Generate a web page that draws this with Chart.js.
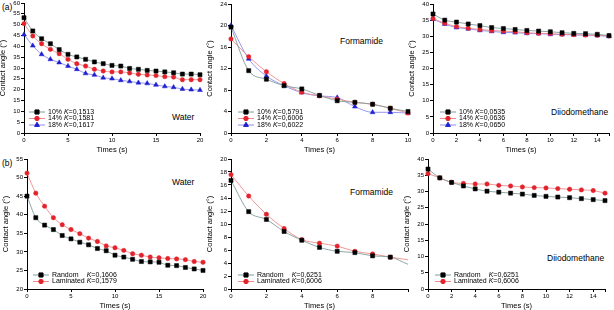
<!DOCTYPE html>
<html>
<head>
<meta charset="utf-8">
<script src="https://cdn.jsdelivr.net/npm/chart.js@4.4.1/dist/chart.umd.min.js"></script>
<style>
  body { margin: 0; background: #fff; width: 614px; height: 310px; position: relative; overflow: hidden;
         font-family: "Liberation Sans", Arial, sans-serif; }
  canvas { position: absolute; }
  .lbl { position: absolute; font-size: 8.5px; color: #000; white-space: nowrap; line-height: 1; }
</style>
</head>
<body>
<div class="lbl" style="left:2px;top:3px">(a)</div>
<div class="lbl" style="left:2px;top:159px">(b)</div>
<div class="lbl" style="left:172px;top:113px">Water</div>
<div class="lbl" style="left:340px;top:37px">Formamide</div>
<div class="lbl" style="left:551px;top:108px">Diiodomethane</div>
<div class="lbl" style="left:172px;top:178px">Water</div>
<div class="lbl" style="left:350px;top:188px">Formamide</div>
<div class="lbl" style="left:547px;top:254px">Diiodomethane</div>
<script>
// time axes
const t20 = [0,1,2,3,4,5,6,7,8,9,10,11,12,13,14,15,16,17,18,19,20];
const t10 = [0,1,2,3,4,5,6,7,8,9,10];
const t15 = [0,1,2,3,4,5,6,7,8,9,10,11,12,13,14,15];

// (a) water
const waterA10 = [53.2,47.1,43.5,41.2,38.5,36.3,35.1,34.0,32.8,32.0,31.2,30.9,29.8,29.4,28.9,28.6,28.2,27.8,27.2,27.2,26.9];
const waterA14 = [50.5,44.8,41.2,38.6,36.6,34.0,32.0,30.9,29.4,28.6,28.2,28.2,27.7,27.1,26.8,26.5,26.0,25.8,24.6,24.6,24.6];
const waterA18 = [45.4,40.3,36.3,34.0,32.5,30.9,29.4,27.5,26.8,25.5,25.1,24.3,23.8,23.2,22.9,22.2,21.5,21.1,20.3,20.0,19.8];
// (a) formamide
const formA10 = [19.7,11.6,10.0,8.8,8.2,7.0,6.0,5.7,5.35,4.6,4.0];
const formA14 = [17.5,14.2,11.4,9.2,7.6,6.9,6.3,5.7,5.35,4.6,3.7];
const formA18 = [20.0,13.8,10.6,8.8,7.5,6.9,6.6,4.9,3.85,3.85,3.7];
// (a) diiodomethane
const diioA10 = [36.9,35.0,34.4,33.8,33.3,32.7,32.4,32.1,31.8,31.6,31.4,31.1,30.9,30.8,30.6,30.2];
const diioA14 = [35.5,34.0,33.0,32.5,32.1,31.8,31.6,31.4,31.1,30.9,30.8,30.6,30.5,30.4,30.3,30.1];
const diioA18 = [35.3,33.8,32.7,32.3,31.8,31.5,31.2,31.1,30.9,30.8,30.6,30.5,30.4,30.3,30.2,30.0];
// (b) water
const waterRandom = [45.0,39.2,37.2,36.0,34.4,33.5,32.6,31.9,30.9,30.3,29.1,28.6,28.0,27.4,27.3,27.2,26.4,26.3,25.8,25.4,25.0];
const waterLamin  = [51.2,45.8,42.3,39.2,37.3,36.0,34.9,33.7,32.8,31.6,31.1,30.4,29.5,29.1,28.6,28.4,28.2,28.1,27.9,27.4,27.2];
// (b) formamide (last value = end of fitted curve, no marker)
const formRandom = [16.7,11.9,10.7,8.85,7.5,6.4,5.8,5.6,5.1,4.9,3.8];
const formLamin  = [17.6,14.3,11.5,9.3,7.6,7.05,6.6,5.8,5.4,4.9,4.5];
// (b) diiodomethane
const diioRandom = [36.9,34.2,32.8,31.7,30.8,30.1,29.8,29.5,29.2,28.8,28.5,28.3,28.1,27.8,27.5,27.2];
const diioLamin  = [35.5,34.2,32.8,32.5,32.3,32.3,31.9,31.7,31.4,31.2,31.1,30.9,30.7,30.5,30.3,29.5];

const kA1 = ['0,1513','0,1581','0,1617'];
const kA2 = ['0,5791','0,6006','0,6022'];
const kA3 = ['0,0535','0,0636','0,0650'];
const kB1 = ['0,1606','0,1579'];
const kB2 = ['0,6251','0,6006'];
const kB3 = ['0,6251','0,6006'];

const S_BLACK = { color: '#000000', line: '#7f9c9c', marker: 'rect', r: 2.9 };
const S_RED   = { color: '#e3222c', line: '#f08a8a', marker: 'circle', r: 2.2 };
const S_BLUE  = { color: '#1f1fd0', line: '#8c8cf0', marker: 'triangle', r: 2.8 };

const YW = 26, XH = 21, PT = 6, PR = 8;
const FONT = '"Liberation Sans", Arial, sans-serif';

const inlineLegend = {
  id: 'inlineLegend',
  afterDatasetsDraw(chart, args, opts) {
    const { ctx, chartArea } = chart;
    ctx.save();
    ctx.font = '7px ' + FONT;
    const nameW = Math.max(...opts.names.map(n => ctx.measureText(n + ' ').width));
    opts.names.forEach((name, i) => {
      const ds = chart.data.datasets[i];
      const x0 = chartArea.left + opts.dx;
      const y = chartArea.bottom - opts.bottom + i * opts.dy;
      ctx.strokeStyle = ds.borderColor;
      ctx.lineWidth = 1;
      ctx.beginPath(); ctx.moveTo(x0, y); ctx.lineTo(x0 + 16, y); ctx.stroke();
      ctx.fillStyle = ds.pointBackgroundColor;
      ctx.strokeStyle = ds.pointBorderColor;
      Chart.helpers.drawPoint(ctx, { pointStyle: ds.pointStyle, radius: ds.legendRadius, rotation: 0, borderWidth: 0.5 }, x0 + 8, y);
      ctx.fillStyle = '#000';
      ctx.textBaseline = 'middle';
      const tx = x0 + 19;
      ctx.font = '7px ' + FONT;
      ctx.fillText(name, tx, y);
      const kx = tx + nameW;
      ctx.font = 'italic 7px ' + FONT;
      ctx.fillText('K', kx, y);
      const kw = ctx.measureText('K').width;
      ctx.font = '7px ' + FONT;
      ctx.fillText('=' + opts.ks[i], kx + kw, y);
    });
    ctx.restore();
  }
};

function makePanel(p) {
  const c = document.createElement('canvas');
  c.width = p.right - p.left + YW + PR;
  c.height = p.bottom - p.top + PT + XH;
  c.style.left = (p.left - YW) + 'px';
  c.style.top = (p.top - PT) + 'px';
  document.body.appendChild(c);

  const tickFont = { size: 6, family: FONT };
  const titleFont = { size: 7.5, family: FONT };

  new Chart(c, {
    type: 'line',
    data: {
      datasets: p.series.map(s => ({
        data: p.x.map((x, i) => ({ x: x, y: s.values[i] })),
        borderColor: s.style.line,
        borderWidth: 0.9,
        clip: 8,
        cubicInterpolationMode: 'monotone',
        pointStyle: s.style.marker,
        pointRadius: ctx => (p.hideLast && ctx.dataIndex === p.x.length - 1) ? 0 : s.style.r,
        legendRadius: s.style.r,
        pointBackgroundColor: s.style.color,
        pointBorderColor: s.style.color,
        pointBorderWidth: 0.5
      }))
    },
    options: {
      responsive: false,
      animation: false,
      devicePixelRatio: 1,
      layout: { padding: { top: PT, right: PR, left: 0, bottom: 0 } },
      plugins: {
        legend: { display: false },
        tooltip: { enabled: false },
        inlineLegend: { names: p.names, ks: p.ks, dx: p.legDx, bottom: p.legBottom, dy: 6.5 }
      },
      scales: {
        x: {
          type: 'linear', min: 0, max: p.xMax,
          afterFit: s => { s.height = XH; },
          ticks: { stepSize: p.xStep, autoSkip: false, maxRotation: 0, font: tickFont, color: '#000', padding: 1,
                   callback: v => (v % p.xStep !== 0 || (p.hideXMax && v === p.xMax)) ? '' : v },
          grid: { drawOnChartArea: false, tickLength: 3, color: '#000' },
          border: { color: '#000', width: 1 },
          title: { display: true, text: 'Times (s)', font: titleFont, color: '#000', padding: { top: 0, bottom: 0 } }
        },
        y: {
          min: p.yMin, max: p.yMax,
          afterFit: s => { s.width = YW; },
          ticks: { stepSize: p.yStep, autoSkip: false, font: tickFont, color: '#000', padding: 1 },
          grid: { drawOnChartArea: false, tickLength: 3, color: '#000' },
          border: { color: '#000', width: 1 },
          title: { display: true, text: 'Contact angle (°)', font: titleFont, color: '#000', padding: { top: 0, bottom: 1 } }
        }
      }
    },
    plugins: [inlineLegend]
  });
}

makePanel({ left: 24, right: 200, top: 3, bottom: 133, x: t20, xMax: 20, xStep: 5, yMin: 0, yMax: 60, yStep: 5,
  series: [{ values: waterA10, style: S_BLACK }, { values: waterA14, style: S_RED }, { values: waterA18, style: S_BLUE }],
  names: ['10%', '14%', '18%'], ks: kA1, legDx: 5, legBottom: 21 });
makePanel({ left: 231, right: 408, top: 4, bottom: 133, x: t10, xMax: 10, xStep: 2, yMin: 0, yMax: 24, yStep: 4,
  series: [{ values: formA10, style: S_BLACK }, { values: formA14, style: S_RED }, { values: formA18, style: S_BLUE }],
  names: ['10%', '14%', '18%'], ks: kA2, legDx: 7, legBottom: 21 });
makePanel({ left: 433, right: 609, top: 4, bottom: 133, x: t15, xMax: 15, xStep: 2, yMin: 0, yMax: 40, yStep: 5,
  series: [{ values: diioA10, style: S_BLACK }, { values: diioA14, style: S_RED }, { values: diioA18, style: S_BLUE }],
  names: ['10%', '14%', '18%'], ks: kA3, legDx: 7, legBottom: 21 });
makePanel({ left: 27, right: 203, top: 159, bottom: 289, x: t20, xMax: 20, xStep: 5, yMin: 20, yMax: 55, yStep: 5,
  series: [{ values: waterRandom, style: S_BLACK }, { values: waterLamin, style: S_RED }],
  names: ['Random', 'Laminated'], ks: kB1, legDx: 6, legBottom: 14 });
makePanel({ left: 231, right: 408, top: 159, bottom: 289, x: t10, xMax: 10, xStep: 2, yMin: 0, yMax: 20, yStep: 2,
  hideXMax: true, hideLast: true,
  series: [{ values: formRandom, style: S_BLACK }, { values: formLamin, style: S_RED }],
  names: ['Random', 'Laminated'], ks: kB2, legDx: 7, legBottom: 14 });
makePanel({ left: 428, right: 605, top: 159, bottom: 289, x: t15, xMax: 15, xStep: 2, yMin: 0, yMax: 40, yStep: 5,
  series: [{ values: diioRandom, style: S_BLACK }, { values: diioLamin, style: S_RED }],
  names: ['Random', 'Laminated'], ks: kB3, legDx: 7, legBottom: 14 });
</script>
</body>
</html>
